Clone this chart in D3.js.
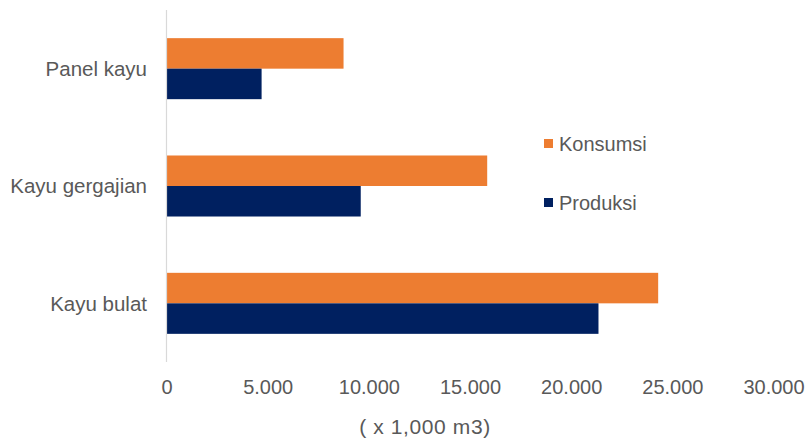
<!DOCTYPE html>
<html>
<head>
<meta charset="utf-8">
<script src="https://cdn.jsdelivr.net/npm/d3@7/dist/d3.min.js"></script>
<style>
  html, body { margin: 0; padding: 0; background: #ffffff; }
  svg text { font-family: "Liberation Sans", Arial, sans-serif; fill: #595959; }
</style>
</head>
<body>
<svg id="chart" width="809" height="441"></svg>
<script>
// Wood products: production vs consumption (x 1,000 m3)
const categories = ["Panel kayu", "Kayu gergajian", "Kayu bulat"];
const seriesNames = ["Konsumsi", "Produksi"];
const konsumsi = [8750, 15850, 24300];
const produksi = [4700, 9600, 21350];
const tickValues = [0, 5000, 10000, 15000, 20000, 25000, 30000];
const axisTitle = "( x 1,000 m3)";
const colors = ["#ED7D31", "#002060"];

const rows = categories.map((c, i) => ({ category: c, Konsumsi: konsumsi[i], Produksi: produksi[i] }));

const svg = d3.select("#chart");
const plotLeft = 166.5, plotRight = 773.5, plotTop = 10, plotBottom = 362;
const fontSize = 20;

const x = d3.scaleLinear().domain([0, 30000]).range([plotLeft, plotRight]);
const y = d3.scaleBand().domain(categories).range([plotTop, plotBottom])
  .paddingInner(0.48).paddingOuter(0.24);
const ySub = d3.scaleBand().domain(seriesNames).range([0, y.bandwidth()]);
const color = d3.scaleOrdinal().domain(seriesNames).range(colors);

const idLocale = d3.formatLocale({ decimal: ",", thousands: ".", grouping: [3], currency: ["", ""] });
const fmt = idLocale.format(",");

// bars
const groups = svg.append("g").selectAll("g").data(rows).join("g")
  .attr("transform", d => `translate(0,${y(d.category)})`);
groups.selectAll("rect")
  .data(d => seriesNames.map(s => ({ series: s, value: d[s] })))
  .join("rect")
  .attr("x", x(0))
  .attr("y", d => ySub(d.series))
  .attr("width", d => x(d.value) - x(0))
  .attr("height", ySub.bandwidth())
  .attr("fill", d => color(d.series));

// vertical category axis line
svg.append("line")
  .attr("x1", x(0)).attr("x2", x(0))
  .attr("y1", plotTop).attr("y2", plotBottom)
  .attr("stroke", "#d9d9d9").attr("stroke-width", 1.2);

// category labels
svg.append("g").selectAll("text").data(categories).join("text")
  .attr("x", 147)
  .attr("y", d => y(d) + y.bandwidth() / 2)
  .attr("dy", "0.35em")
  .attr("text-anchor", "end")
  .attr("font-size", fontSize + 0.5)
  .text(d => d);

// value axis (labels only)
const xAxis = svg.append("g")
  .attr("transform", `translate(0,${plotBottom})`)
  .call(d3.axisBottom(x).tickValues(tickValues).tickFormat(fmt).tickSize(0).tickPadding(18));
xAxis.select(".domain").remove();
xAxis.selectAll("text")
  .attr("font-size", fontSize)
  .attr("font-family", "Liberation Sans, Arial, sans-serif")
  .attr("fill", "#595959");

// axis title
svg.append("text")
  .attr("x", 425)
  .attr("y", 434)
  .attr("text-anchor", "middle")
  .attr("font-size", fontSize + 1)
  .attr("letter-spacing", 0.6)
  .text(axisTitle);

// legend
const legend = svg.append("g").selectAll("g").data(seriesNames).join("g")
  .attr("transform", (d, i) => `translate(544,${139 + i * 59})`);
legend.append("rect").attr("width", 9).attr("height", 9).attr("fill", d => color(d));
legend.append("text")
  .attr("x", 15).attr("y", 4.5).attr("dy", "0.35em")
  .attr("font-size", fontSize)
  .text(d => d);
</script>
</body>
</html>
